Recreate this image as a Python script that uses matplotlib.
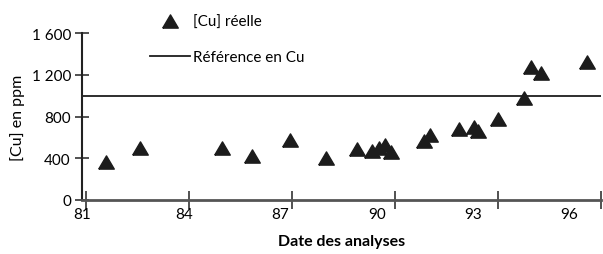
import numpy as np
import matplotlib
matplotlib.use("Agg")
import matplotlib.pyplot as plt

plt.rcParams['font.family'] = ['Lato', 'DejaVu Sans']

# measured copper contents, year of analysis (19xx) and value in ppm
annee = [81.57, 82.58, 84.95, 85.82, 86.94, 87.99, 88.89, 89.32, 89.52, 89.72,
         89.87, 90.84, 91.03, 91.85, 92.29, 92.43, 93.00, 93.75, 93.97, 94.24, 95.60]
cu_ppm = [365, 496, 496, 419, 573, 400, 488, 470, 496, 528,
          458, 569, 624, 681, 698, 665, 777, 976, 1273, 1219, 1328]
reference = 1000

x_ticks = [81, 84, 87, 90, 93, 96]
x_labels = ["81", "84", "87", "90", "93", "96"]
x_label_pos = [80.88, 83.85, 86.65, 89.49, 92.28, 95.08]
y_ticks = [0, 400, 800, 1200, 1600]
y_labels = ["0", "400", "800", "1 200", "1 600"]

W, H = 603, 255
fig = plt.figure(figsize=(W / 100, H / 100), dpi=100)
ax = fig.add_axes([82 / W, 1 - 201 / H, (601 - 82) / W, (201 - 34.3) / H])

tri = [(-1, -0.85), (1, -0.85), (0, 0.85), (-1, -0.85)]
ax.plot(annee, cu_ppm, linestyle="none", marker=tri, markersize=11.2,
        color="#1c1c1c", label="[Cu] réelle")
ax.axhline(reference, color="#1c1c1c", lw=1.3, label="Référence en Cu")

ax.set_xlim(81, 96)
ax.set_ylim(0, 1600)
ax.set_xticks(x_ticks)
ax.set_xticklabels([])
ax.set_xticks(x_label_pos, minor=True)
ax.set_xticklabels(x_labels, minor=True)
ax.tick_params(axis="x", which="minor", length=0, pad=5, labelsize=11)
ax.tick_params(axis="x", which="major", direction="inout", length=13, width=1.2, color="#333333")
ax.set_yticks(y_ticks)
ax.set_yticklabels(y_labels)
ax.tick_params(axis="y", direction="inout", length=10, width=1.2, color="#333333", pad=3, labelsize=11)

for s in ["top", "right"]:
    ax.spines[s].set_visible(False)
ax.spines["bottom"].set_color("#555555")
ax.spines["bottom"].set_linewidth(2)
ax.spines["left"].set_color("#222222")
ax.spines["left"].set_linewidth(1.5)

fig.legend(loc="upper left", bbox_to_anchor=(150 / W, 1 - 16 / H), frameon=False,
           fontsize=11, borderpad=0, borderaxespad=0, handlelength=2.6,
           handletextpad=0.2, labelspacing=1.4)

fig.text(18 / W, 1 - 117.5 / H, "[Cu] en ppm", rotation=90, ha="center", va="center", fontsize=11.5)
fig.text(341.5 / W, 1 - 242 / H, "Date des analyses", ha="center", va="center",
         fontsize=11.5, fontweight="bold")

fig.savefig("out.png", dpi=100)
plt.close()
